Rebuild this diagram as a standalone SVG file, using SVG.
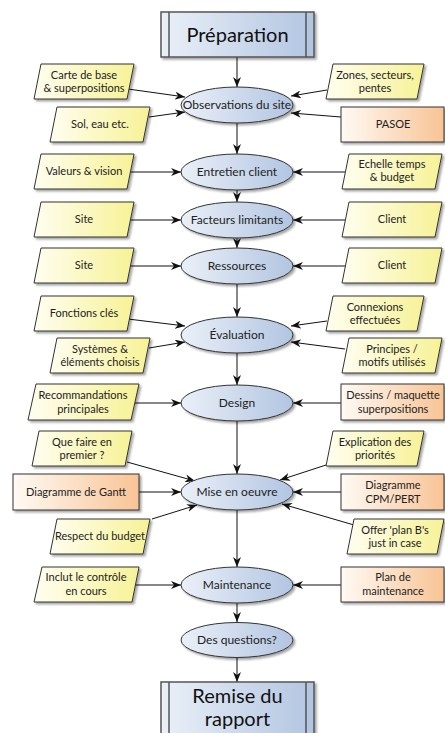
<svg xmlns="http://www.w3.org/2000/svg" width="445" height="733" viewBox="0 0 445 733">
<defs>
<linearGradient id="gBlue" x1="0" y1="0" x2="1" y2="0"><stop offset="0" stop-color="#eaf0f8"/><stop offset="1" stop-color="#b2c5e1"/></linearGradient>
<linearGradient id="gYel" x1="0" y1="0" x2="1" y2="0"><stop offset="0" stop-color="#fffef0"/><stop offset="1" stop-color="#f7f296"/></linearGradient>
<linearGradient id="gOr" x1="0" y1="0" x2="1" y2="0"><stop offset="0" stop-color="#fffaf4"/><stop offset="1" stop-color="#f8c495"/></linearGradient>
<filter id="sh" x="-10%" y="-20%" width="130%" height="150%"><feDropShadow dx="2" dy="2" stdDeviation="1.3" flood-color="#000" flood-opacity="0.35"/></filter>
<marker id="ah" viewBox="0 0 10 8" refX="10" refY="4" markerWidth="10" markerHeight="8" markerUnits="userSpaceOnUse" orient="auto"><path d="M0,0 L10,4 L0,8 L3,4 z" fill="#111"/></marker>
</defs>
<style>
.ell{fill:url(#gBlue);stroke:#333;stroke-width:1;filter:url(#sh)}
.par{fill:url(#gYel);stroke:#333;stroke-width:1;filter:url(#sh)}
.org{fill:url(#gOr);stroke:#333;stroke-width:1;filter:url(#sh)}
.ttl{fill:url(#gBlue);stroke:#555;stroke-width:1.5;filter:url(#sh)}
.tl{fill:none;stroke:#555;stroke-width:1.5}
text{font-family:Lato,"Open Sans","DejaVu Sans",sans-serif;fill:#222;text-anchor:middle;font-size:11px}
.big{font-size:20px;fill:#111}
.e{font-size:12px}
#conn line{stroke:#111;stroke-width:1;marker-end:url(#ah)}
</style>
<rect width="445" height="733" fill="#fff"/>

<g id="conn">
<line x1="237" y1="57" x2="237" y2="87"/>
<line x1="128" y1="89" x2="185" y2="97"/>
<line x1="149" y1="117" x2="185" y2="112"/>
<line x1="327" y1="90" x2="291" y2="96"/>
<line x1="341" y1="117" x2="291" y2="113"/>
<line x1="237" y1="123" x2="237" y2="154"/>
<line x1="129" y1="172" x2="181" y2="172"/>
<line x1="345" y1="172" x2="293" y2="172"/>
<line x1="237" y1="190" x2="237" y2="202"/>
<line x1="129" y1="220" x2="181" y2="220"/>
<line x1="345" y1="220" x2="293" y2="220"/>
<line x1="237" y1="238" x2="237" y2="248"/>
<line x1="129" y1="266" x2="181" y2="266"/>
<line x1="345" y1="266" x2="293" y2="266"/>
<line x1="237" y1="284" x2="237" y2="317"/>
<line x1="128" y1="319" x2="185" y2="326"/>
<line x1="149" y1="348" x2="185" y2="342"/>
<line x1="327" y1="321" x2="291" y2="326"/>
<line x1="345" y1="349" x2="291" y2="342"/>
<line x1="237" y1="353" x2="237" y2="385"/>
<line x1="134" y1="403" x2="181" y2="403"/>
<line x1="341" y1="403" x2="293" y2="403"/>
<line x1="237" y1="421" x2="237" y2="474"/>
<line x1="127" y1="462" x2="195" y2="481"/>
<line x1="139" y1="492" x2="181" y2="492"/>
<line x1="152" y1="519" x2="197" y2="505"/>
<line x1="326" y1="465" x2="280" y2="480"/>
<line x1="341" y1="492" x2="293" y2="492"/>
<line x1="354" y1="525" x2="282" y2="504"/>
<line x1="237" y1="510" x2="237" y2="567"/>
<line x1="135" y1="585" x2="181" y2="585"/>
<line x1="341" y1="585" x2="293" y2="585"/>
<line x1="237" y1="603" x2="237" y2="622"/>
<line x1="237" y1="658" x2="237" y2="682"/>
</g>

<g id="n-preparation"><rect class="ttl" x="161" y="12" width="153" height="45"/><line class="tl" x1="169" y1="12" x2="169" y2="57"/><line class="tl" x1="306" y1="12" x2="306" y2="57"/><text class="big" x="237.5" y="42">Préparation</text></g>

<g id="n-obs"><ellipse class="ell" cx="237" cy="105" rx="56" ry="18"/><text class="e" x="237" y="109">Observations du site</text></g>
<g id="n-carte"><polygon class="par" points="41,64 134,64 127,99 34,99"/><text x="84" y="79">Carte de base</text><text x="84" y="92">&amp; superpositions</text></g>
<g id="n-sol"><polygon class="par" points="57,107 150,107 143,142 50,142"/><text x="100" y="128">Sol, eau etc.</text></g>
<g id="n-zones"><polygon class="par" points="333,64 424,64 417,99 326,99"/><text x="375" y="79">Zones, secteurs,</text><text x="375" y="92">pentes</text></g>
<g id="n-pasoe"><rect class="org" x="341" y="107" width="103" height="35"/><text x="393" y="128">PASOE</text></g>

<g id="n-entretien"><ellipse class="ell" cx="237" cy="172" rx="56" ry="18"/><text class="e" x="237" y="176">Entretien client</text></g>
<g id="n-valeurs"><polygon class="par" points="41,154 134,154 127,189 34,189"/><text x="84" y="175">Valeurs &amp; vision</text></g>
<g id="n-echelle"><polygon class="par" points="349,154 442,154 435,189 342,189"/><text x="392" y="168">Echelle temps</text><text x="392" y="181">&amp; budget</text></g>

<g id="n-facteurs"><ellipse class="ell" cx="237" cy="220" rx="56" ry="18"/><text class="e" x="237" y="224">Facteurs limitants</text></g>
<g id="n-site1"><polygon class="par" points="41,202 134,202 127,237 34,237"/><text x="84" y="223">Site</text></g>
<g id="n-client1"><polygon class="par" points="349,202 442,202 435,237 342,237"/><text x="392" y="223">Client</text></g>

<g id="n-ressources"><ellipse class="ell" cx="237" cy="266" rx="56" ry="18"/><text class="e" x="237" y="270">Ressources</text></g>
<g id="n-site2"><polygon class="par" points="41,248 134,248 127,283 34,283"/><text x="84" y="269">Site</text></g>
<g id="n-client2"><polygon class="par" points="349,248 442,248 435,283 342,283"/><text x="392" y="269">Client</text></g>

<g id="n-evaluation"><ellipse class="ell" cx="237" cy="335" rx="56" ry="18"/><text class="e" x="237" y="339">Évaluation</text></g>
<g id="n-fonctions"><polygon class="par" points="41,296 134,296 127,331 34,331"/><text x="84" y="317">Fonctions clés</text></g>
<g id="n-systemes"><polygon class="par" points="57,338 150,338 143,373 50,373"/><text x="100" y="353">Systèmes &amp;</text><text x="100" y="366">éléments choisis</text></g>
<g id="n-connexions"><polygon class="par" points="333,296 424,296 417,331 326,331"/><text x="375" y="311">Connexions</text><text x="375" y="324">effectuées</text></g>
<g id="n-principes"><polygon class="par" points="349,338 442,338 435,373 342,373"/><text x="392" y="353">Principes /</text><text x="392" y="366">motifs utilisés</text></g>

<g id="n-design"><ellipse class="ell" cx="237" cy="403" rx="56" ry="18"/><text class="e" x="237" y="407">Design</text></g>
<g id="n-recomm"><polygon class="par" points="36,384 139,384 131,420 28,420"/><text x="83" y="399">Recommandations</text><text x="83" y="413">principales</text></g>
<g id="n-dessins"><rect class="org" x="341" y="384" width="103" height="36"/><text x="393" y="399">Dessins / maquette</text><text x="393" y="413">superpositions</text></g>

<g id="n-mise"><ellipse class="ell" cx="237" cy="492" rx="56" ry="18"/><text class="e" x="237" y="496">Mise en oeuvre</text></g>
<g id="n-quefaire"><polygon class="par" points="39,431 132,431 125,466 32,466"/><text x="82" y="446">Que faire en</text><text x="82" y="459">premier ?</text></g>
<g id="n-gantt"><rect class="org" x="13" y="474" width="126" height="36"/><text x="76" y="496">Diagramme de Gantt</text></g>
<g id="n-respect"><polygon class="par" points="57,519 150,519 143,554 50,554"/><text x="100" y="540">Respect du budget</text></g>
<g id="n-explication"><polygon class="par" points="333,431 424,431 417,466 326,466"/><text x="375" y="446">Explication des</text><text x="375" y="459">priorités</text></g>
<g id="n-cpm"><rect class="org" x="341" y="474" width="103" height="36"/><text x="393" y="489">Diagramme</text><text x="393" y="503">CPM/PERT</text></g>
<g id="n-offer"><polygon class="par" points="354,519 444,519 437,554 347,554"/><text x="395" y="534">Offer 'plan B's</text><text x="395" y="547">just in case</text></g>

<g id="n-maintenance"><ellipse class="ell" cx="237" cy="585" rx="56" ry="18"/><text class="e" x="237" y="589">Maintenance</text></g>
<g id="n-inclut"><polygon class="par" points="42,567 139,567 132,602 34,602"/><text x="86" y="581">Inclut le contrôle</text><text x="86" y="595">en cours</text></g>
<g id="n-plan"><rect class="org" x="341" y="567" width="103" height="35"/><text x="393" y="581">Plan de</text><text x="393" y="595">maintenance</text></g>

<g id="n-questions"><ellipse class="ell" cx="237" cy="640" rx="56" ry="17.5"/><text class="e" x="237" y="644">Des questions?</text></g>

<g id="n-remise"><rect class="ttl" x="161" y="682" width="153" height="54"/><line class="tl" x1="169" y1="682" x2="169" y2="736"/><line class="tl" x1="306" y1="682" x2="306" y2="736"/><text class="big" x="237.5" y="703">Remise du</text><text class="big" x="237.5" y="726">rapport</text></g>
</svg>
